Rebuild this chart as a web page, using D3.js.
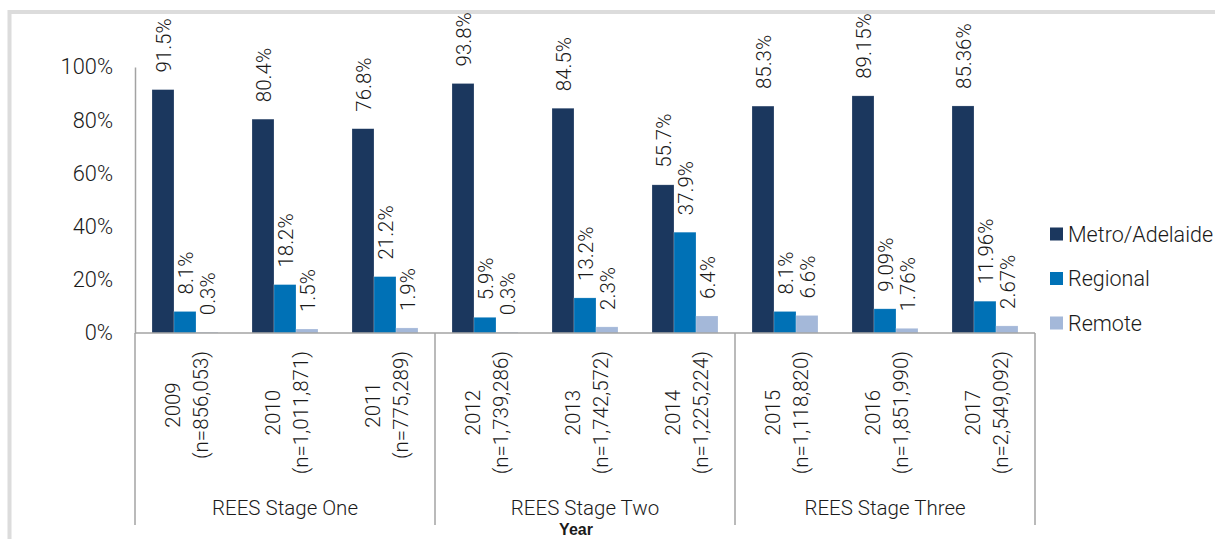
<!DOCTYPE html>
<html>
<head>
<meta charset="utf-8">
<script src="https://cdn.jsdelivr.net/npm/d3@7"></script>
<style>
  html, body { margin: 0; padding: 0; background: #fff; }
  svg { display: block; }
  text { font-family: Roboto, "Open Sans", sans-serif; font-weight: 300; fill: #1a1a1a; }
</style>
</head>
<body>
<svg id="chart" width="1215" height="539"></svg>
<script>
// Survey years with sample sizes (two-line category labels)
const years = ["2009", "2010", "2011", "2012", "2013", "2014", "2015", "2016", "2017"];
const sampleSizes = ["(n=856,053)", "(n=1,011,871)", "(n=775,289)", "(n=1,739,286)", "(n=1,742,572)",
                     "(n=1,225,224)", "(n=1,118,820)", "(n=1,851,990)", "(n=2,549,092)"];
// Program stages grouping three years each
const stages = ["REES Stage One", "REES Stage Two", "REES Stage Three"];
const stageSpan = 3;

// Share of activity by location (%)
const seriesNames = ["Metro/Adelaide", "Regional", "Remote"];
const metro    = [91.5, 80.4, 76.8, 93.8, 84.5, 55.7, 85.3, 89.15, 85.36];
const regional = [8.1, 18.2, 21.2, 5.9, 13.2, 37.9, 8.1, 9.09, 11.96];
const remote   = [0.3, 1.5, 1.9, 0.3, 2.3, 6.4, 6.6, 1.76, 2.67];
const yTicks   = [0, 20, 40, 60, 80, 100];
const axisTitle = "Year";

const seriesValues = [metro, regional, remote];
const colors = ["#1b375e", "#0071b6", "#a4b8d9"];

const svg = d3.select("#chart");

// Outer frame
svg.append("rect")
  .attr("x", 9.5).attr("y", 12).attr("width", 1230).attr("height", 540)
  .attr("fill", "none").attr("stroke", "#dcdcdc").attr("stroke-width", 4);

const plotLeft = 135, plotRight = 1035, plotTop = 67, plotBase = 333;

const x0 = d3.scaleBand().domain(years).range([plotLeft, plotRight])
  .paddingInner(0.34).paddingOuter(0.17);
const x1 = d3.scaleBand().domain(seriesNames).range([0, x0.bandwidth()]);
const y = d3.scaleLinear().domain([0, 100]).range([plotBase, plotTop]);
const step = x0.step();

// Y axis
const yAxis = svg.append("g")
  .attr("transform", `translate(${plotLeft},0)`)
  .call(d3.axisLeft(y).tickValues(yTicks).tickSize(0).tickPadding(22).tickFormat(d => d + "%"));
yAxis.select(".domain").attr("stroke", "#a3a3a3").attr("stroke-width", 1.5);
yAxis.selectAll(".tick text")
  .attr("font-size", 21.8).attr("fill", "#1a1a1a")
  .style("font-family", "Roboto, sans-serif").style("font-weight", 300);

// Bars
const groups = svg.append("g").selectAll("g")
  .data(years)
  .join("g")
  .attr("transform", d => `translate(${x0(d)},0)`);

seriesNames.forEach((name, si) => {
  groups.append("rect")
    .attr("x", x1(name))
    .attr("y", (d, i) => y(seriesValues[si][i]))
    .attr("width", x1.bandwidth())
    .attr("height", (d, i) => plotBase - y(seriesValues[si][i]))
    .attr("fill", colors[si])
    .attr("stroke", "rgba(255,255,255,0.35)")
    .attr("stroke-width", 0.6);

  // Value labels, rotated
  groups.append("text")
    .attr("transform", (d, i) =>
      `translate(${x1(name) + x1.bandwidth() / 2 + 1},${y(seriesValues[si][i]) - 17}) rotate(-90)`)
    .attr("dy", "0.35em")
    .attr("text-anchor", "start")
    .attr("font-size", 20.5)
    .text((d, i) => seriesValues[si][i] + "%");
});

// X axis baseline
svg.append("line")
  .attr("x1", plotLeft).attr("x2", plotRight).attr("y1", plotBase).attr("y2", plotBase)
  .attr("stroke", "#a3a3a3").attr("stroke-width", 1.5);

// Stage dividers
const divEnd = 525;
for (let k = 0; k <= stages.length; k++) {
  const xd = plotLeft + k * stageSpan * step;
  svg.append("line")
    .attr("x1", xd).attr("x2", xd).attr("y1", plotBase).attr("y2", divEnd)
    .attr("stroke", "#a3a3a3").attr("stroke-width", 1.5);
}

// Category labels (two rotated lines per year)
const labelTop = 351, lineGap = 28;
years.forEach((yr, i) => {
  const cx = x0(yr) + x0.bandwidth() / 2 + 2;
  const g = svg.append("g");
  const t1 = g.append("text").attr("font-size", 20.5).attr("text-anchor", "middle").attr("dy", "0.35em").text(yr);
  const t2 = g.append("text").attr("font-size", 20.5).attr("text-anchor", "middle").attr("dy", "0.35em").text(sampleSizes[i]);
  const maxLen = Math.max(t1.node().getComputedTextLength(), t2.node().getComputedTextLength());
  const cy = labelTop + maxLen / 2;
  t1.attr("transform", `translate(${cx - lineGap / 2},${cy}) rotate(-90)`);
  t2.attr("transform", `translate(${cx + lineGap / 2},${cy}) rotate(-90)`);
});

// Stage labels
stages.forEach((s, k) => {
  svg.append("text")
    .attr("x", plotLeft + (k + 0.5) * stageSpan * step)
    .attr("y", 515)
    .attr("text-anchor", "middle")
    .attr("font-size", 20.5)
    .text(s);
});

// Axis title
svg.append("text")
  .attr("x", 576).attr("y", 535)
  .attr("text-anchor", "middle")
  .attr("font-size", 16)
  .style("font-family", "'Liberation Sans', Arial, sans-serif")
  .style("font-weight", 700)
  .attr("fill", "#000")
  .text(axisTitle);

// Legend
const legend = svg.append("g").attr("transform", "translate(1050,234)");
seriesNames.forEach((name, si) => {
  const row = legend.append("g").attr("transform", `translate(0,${si * 44.5})`);
  row.append("rect").attr("x", 0).attr("y", -6.5).attr("width", 13).attr("height", 13).attr("fill", colors[si]);
  row.append("text").attr("x", 18).attr("dy", "0.35em").attr("font-size", 21.5).text(name);
});
</script>
</body>
</html>
